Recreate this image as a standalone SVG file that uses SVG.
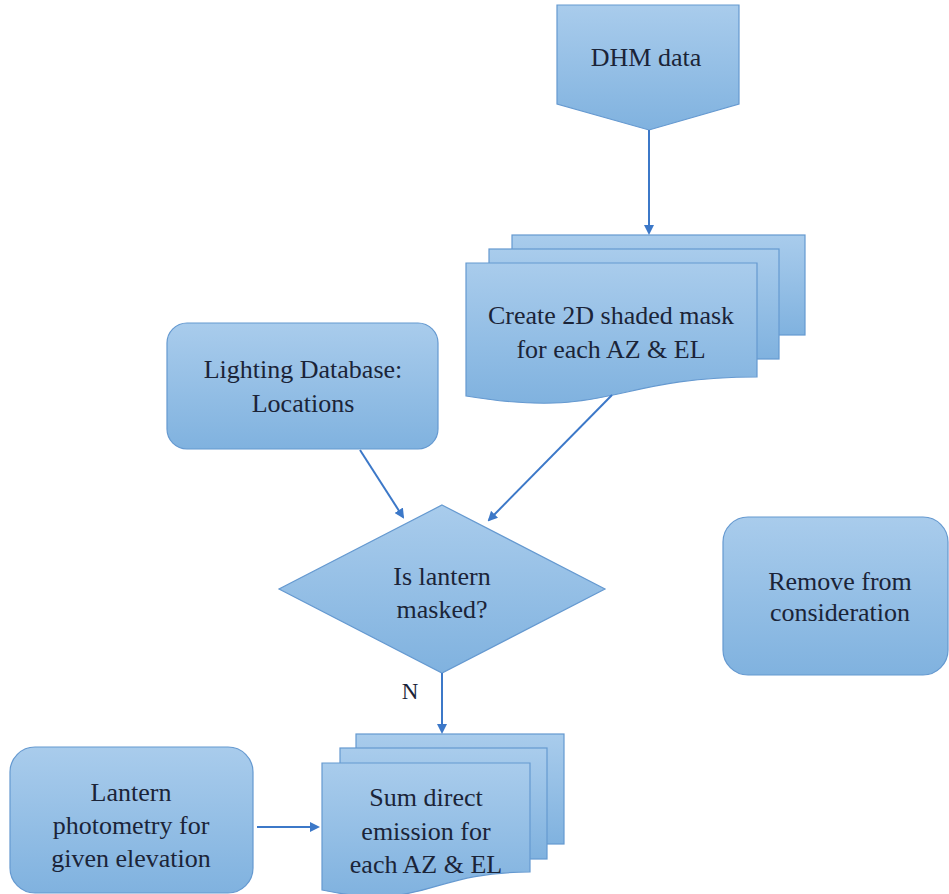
<svg xmlns="http://www.w3.org/2000/svg" width="949" height="894" viewBox="0 0 949 894">
<defs>
<linearGradient id="g" x1="0" y1="0" x2="0" y2="1">
<stop offset="0" stop-color="#a9ccec"/>
<stop offset="1" stop-color="#80b2df"/>
</linearGradient>
<marker id="ah" markerWidth="10" markerHeight="10" refX="8" refY="5" orient="auto" markerUnits="userSpaceOnUse">
<path d="M0,0 L10,5 L0,10 Z" fill="#3c78c8"/>
</marker>
</defs>
<style>
.s{fill:url(#g);stroke:#6599d0;stroke-width:1.2}
.t{font-family:"Liberation Serif",serif;font-size:26px;fill:#1b2438;text-anchor:middle}
.c{stroke:#3c78c8;stroke-width:2;fill:none;marker-end:url(#ah)}
</style>
<rect width="949" height="894" fill="#ffffff"/>
<g id="dhm">
<path class="s" d="M557,5 H739 V104 L649,130 L557,104 Z"/>
<text class="t" x="646" y="66">DHM data</text>
</g>
<g id="mask">
<rect class="s" x="512" y="235" width="293" height="100"/>
<rect class="s" x="489" y="249" width="290" height="110"/>
<path class="s" d="M466,263 H757 V377 C611,377 611,420 466,396 Z"/>
<text class="t" x="611" y="324">Create 2D shaded mask</text>
<text class="t" x="611" y="358">for each AZ &amp; EL</text>
</g>
<g id="lighting">
<rect class="s" x="167" y="323" width="271" height="126" rx="20"/>
<text class="t" x="303" y="378">Lighting Database:</text>
<text class="t" x="303" y="412">Locations</text>
</g>
<g id="decision">
<path class="s" d="M442,505 L605,589 L442,673 L279,589 Z"/>
<text class="t" x="442" y="585">Is lantern</text>
<text class="t" x="442" y="618">masked?</text>
</g>
<g id="remove">
<rect class="s" x="723" y="517" width="225" height="158" rx="25"/>
<text class="t" x="840" y="590">Remove from</text>
<text class="t" x="840" y="621">consideration</text>
</g>
<g id="lantern">
<rect class="s" x="10" y="747" width="243" height="146" rx="25"/>
<text class="t" x="131" y="801">Lantern</text>
<text class="t" x="131" y="834">photometry for</text>
<text class="t" x="131" y="867">given elevation</text>
</g>
<g id="sum">
<rect class="s" x="356" y="734" width="208" height="110"/>
<rect class="s" x="340" y="748" width="207" height="111"/>
<path class="s" d="M322,763 H530 V872 C426,872 426,912 322,890 Z"/>
<text class="t" x="426" y="806">Sum direct</text>
<text class="t" x="426" y="840">emission for</text>
<text class="t" x="426" y="873">each AZ &amp; EL</text>
</g>
<g id="connectors">
<line class="c" x1="649" y1="130" x2="649" y2="233"/>
<line class="c" x1="360" y1="450" x2="403" y2="517"/>
<line class="c" x1="612" y1="395" x2="489" y2="520"/>
<line class="c" x1="442" y1="673" x2="442" y2="732"/>
<line class="c" x1="257" y1="827" x2="318" y2="827"/>
<text x="410" y="699" style="font-family:'Liberation Serif',serif;font-size:23px;fill:#1b2438;text-anchor:middle">N</text>
</g>
</svg>
